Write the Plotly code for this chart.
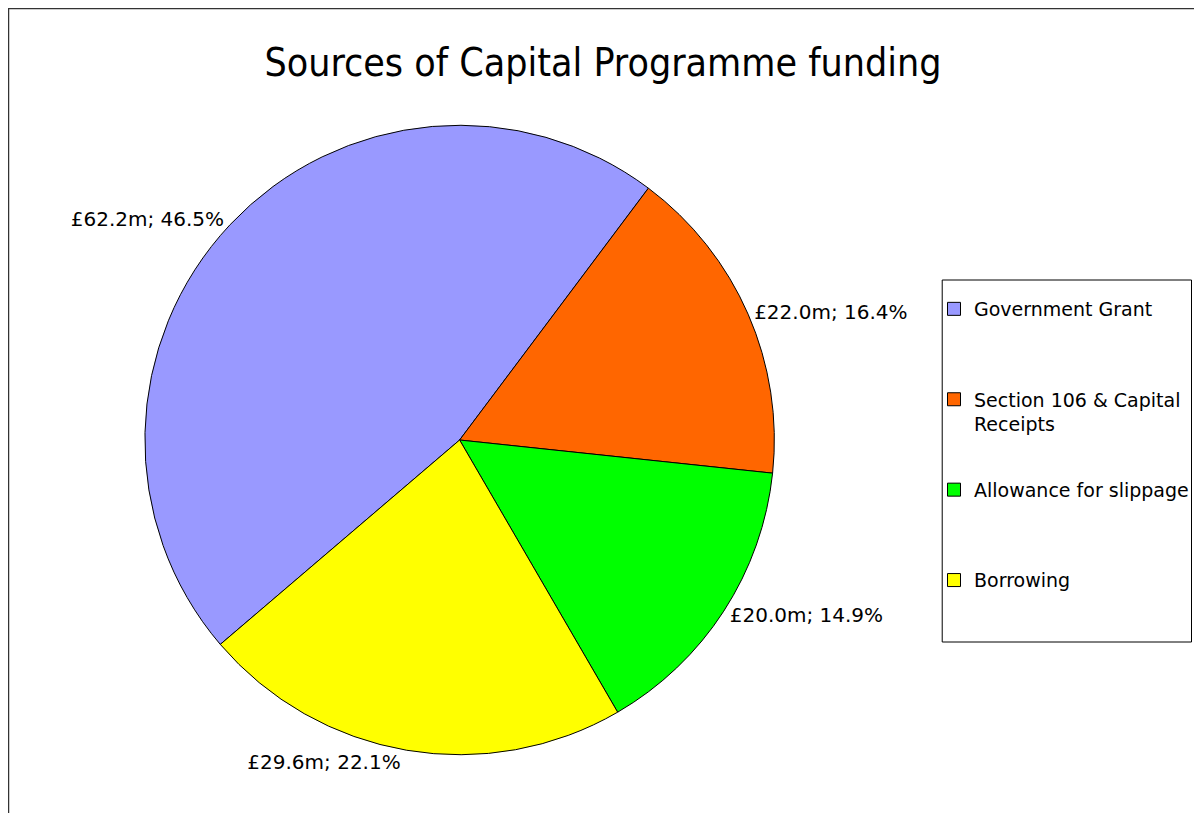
import plotly.graph_objects as go

categories = ["Government Grant", "Section 106 & Capital Receipts", "Allowance for slippage", "Borrowing"]
legend_names = ["Government Grant<br>&nbsp;", "Section 106 & Capital<br>Receipts",
                "Allowance for slippage<br>&nbsp;", "Borrowing<br>&nbsp;"]
values_m = [62.2, 22.0, 20.0, 29.6]
colors = ["#9999FF", "#FF6600", "#00FF00", "#FFFF00"]
title_text = "Sources of Capital Programme funding"

# page body has an 8px margin, so figure coords = screen coords - 8
W, H = 1186, 805
FONT = "DejaVu Sans"

fig = go.Figure()
fig.add_trace(go.Pie(
    labels=categories,
    values=values_m,
    sort=False,
    direction="clockwise",
    rotation=229.5,
    marker=dict(colors=colors, line=dict(color="black", width=1)),
    texttemplate="£%{value:.1f}m; %{percent:.1%}",
    textposition="outside",
    textfont=dict(family=FONT, size=20, color="black"),
    showlegend=False,
    hoverinfo="label+value+percent",
    domain=dict(x=[137 / W, 767 / W], y=[1 - 747 / H, 1 - 117 / H]),
))

for i, (name, col) in enumerate(zip(legend_names, colors)):
    fig.add_trace(go.Scatter(
        x=[None], y=[None], mode="markers", name=name,
        legendgroup=f"g{i}",
        marker=dict(symbol="square", size=13, color=col, line=dict(color="black", width=1)),
    ))

fig.update_layout(
    width=W, height=H,
    margin=dict(l=0, r=0, t=0, b=0),
    paper_bgcolor="white", plot_bgcolor="white",
    title=dict(text=title_text, x=595 / W, xanchor="center", y=1 - 54 / H, yanchor="middle",
               font=dict(family="DejaVu Sans Condensed", size=39, color="black")),
    xaxis=dict(visible=False), yaxis=dict(visible=False),
    legend=dict(x=927 / W, y=1 - 282 / H, xanchor="left", yanchor="top",
                borderwidth=0, bgcolor="rgba(0,0,0,0)", valign="top",
                font=dict(family=FONT, size=19, color="black"),
                tracegroupgap=38, itemwidth=30, traceorder="grouped"),
    shapes=[
        dict(type="rect", xref="paper", yref="paper",
             x0=0.5 / W, x1=1 + 10 / W, y0=-10 / H, y1=1 - 0.5 / H,
             line=dict(color="#333333", width=1.5)),
        dict(type="rect", xref="paper", yref="paper",
             x0=935 / W, x1=1184.5 / W, y0=1 - 634 / H, y1=1 - 272 / H,
             line=dict(color="black", width=1), layer="below"),
    ],
)

fig.write_html("out.html")
